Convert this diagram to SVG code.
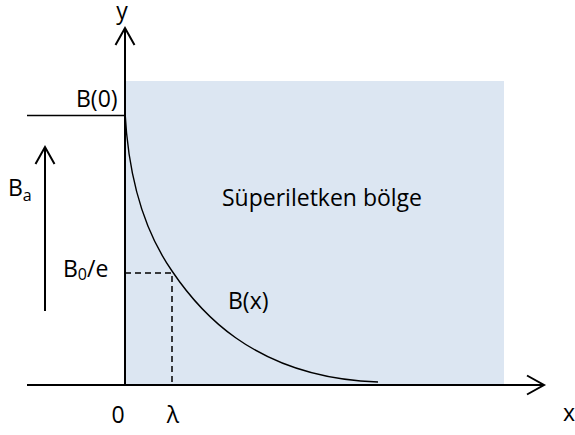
<svg xmlns="http://www.w3.org/2000/svg" width="575" height="435" viewBox="0 0 575 435">
<style>
  text { font-family: "Open Sans", "Liberation Sans", sans-serif; font-size: 23px; fill: #000; }
  .sub { font-size: 16px; }
  .axis { stroke: #000; stroke-width: 2; fill: none; }
  .thin { stroke: #000; stroke-width: 1.5; fill: none; }
  .curve { stroke: #000; stroke-width: 1.4; fill: none; }
  .dash { stroke: #000; stroke-width: 1.5; fill: none; stroke-dasharray: 6 4; }
</style>
<defs>
  <marker id="chev" markerUnits="userSpaceOnUse" markerWidth="22" markerHeight="24" viewBox="0 0 22 24" refX="18" refY="12" orient="auto">
    <path d="M1,2.5 L18,12 L1,21.5" fill="none" stroke="#000" stroke-width="2"/>
  </marker>
</defs>
<g id="region">
  <rect x="125" y="81" width="379" height="304" fill="#dce6f2"/>
  <text x="222" y="206">Süperiletken bölge</text>
</g>
<g id="connectors">
  <line id="y-axis" class="axis" x1="125" y1="385" x2="125" y2="28" marker-end="url(#chev)"/>
  <line id="x-axis" class="axis" x1="27" y1="385" x2="544" y2="385" marker-end="url(#chev)"/>
  <line id="b0-line" class="thin" x1="27" y1="115.5" x2="125" y2="115.5"/>
  <line id="ba-arrow" class="axis" x1="45" y1="311" x2="45" y2="147" marker-end="url(#chev)"/>
  <path id="bx-curve" class="curve" d="M125,112 C128,170 140,225 172,271 C195,305 250,378 378,382"/>
  <polyline id="lambda-guide" class="dash" points="125,273 172,273 172,385"/>
</g>
<g id="labels">
  <text x="122" y="19" text-anchor="middle">y</text>
  <text x="569" y="421" text-anchor="middle">x</text>
  <text x="76" y="107">B(0)</text>
  <text x="8" y="196">B<tspan class="sub" dy="5">a</tspan></text>
  <text x="63" y="277">B<tspan class="sub" dy="3">0</tspan><tspan dy="-3">/e</tspan></text>
  <text x="228" y="309">B(x)</text>
  <text x="118" y="423" text-anchor="middle">0</text>
  <text x="173" y="423" text-anchor="middle">λ</text>
</g>
</svg>
